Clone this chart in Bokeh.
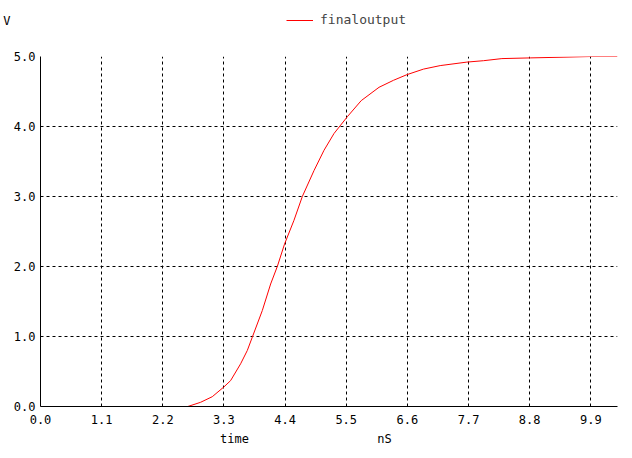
from bokeh.plotting import figure
from bokeh.layouts import column
from bokeh.models import (Range1d, FixedTicker, PrintfTickFormatter, Legend,
                          LegendItem, LinearAxis)
from bokeh.embed import file_html
from bokeh.resources import INLINE

# data (time in nS, voltage in V)
time_ns = [0.0, 2.65, 2.88, 3.09, 3.30, 3.42, 3.60, 3.72, 3.81, 3.99, 4.14, 4.26, 4.39,
           4.56, 4.71, 4.92, 5.10, 5.28, 5.40, 5.52, 5.77, 6.09, 6.35, 6.59, 6.89, 7.19,
           7.67, 7.97, 8.30, 8.81, 9.40, 9.90, 10.38]
finaloutput = [0.0, 0.0, 0.06, 0.14, 0.28, 0.37, 0.61, 0.80, 0.99, 1.37, 1.75, 2.0, 2.32,
               2.66, 3.0, 3.37, 3.66, 3.90, 4.02, 4.14, 4.37, 4.56, 4.66, 4.74, 4.82, 4.87,
               4.92, 4.94, 4.97, 4.98, 4.99, 5.0, 5.0]
x_ticks = [0.0, 1.1, 2.2, 3.3, 4.4, 5.5, 6.6, 7.7, 8.8, 9.9]
y_ticks = [0.0, 1.0, 2.0, 3.0, 4.0, 5.0]
x_title = "time"
x_unit = "nS"
y_unit = "V"
series_name = "finaloutput"

FONT = "DejaVu Sans Mono"
RED = "#ff0000"

# ---- header strip: unit label and legend ----
top = figure(output_backend="svg", toolbar_location=None, width=632, height=48,
             x_range=Range1d(0, 632), y_range=Range1d(1000, 1048),
             min_border=0, min_border_left=40, min_border_right=15,
             x_axis_type=None, y_axis_type=None)
top.outline_line_color = None
top.grid.visible = False
r_key = top.line(time_ns, finaloutput, line_color=RED, line_width=1)

unit_pos = [1028]
unit_axis = LinearAxis(ticker=FixedTicker(ticks=unit_pos),
                       major_label_overrides={unit_pos[0]: y_unit},
                       axis_line_color=None, major_tick_in=0, major_tick_out=0,
                       minor_tick_in=0, minor_tick_out=0, major_label_standoff=30,
                       major_label_text_font=FONT, major_label_text_font_size="12px",
                       major_label_text_color="black")
top.add_layout(unit_axis, "left")

legend = Legend(items=[LegendItem(label=series_name, renderers=[r_key])],
                location=(246, 21), padding=0, margin=0, spacing=0,
                glyph_width=27, glyph_height=14, label_standoff=7,
                label_text_font=FONT, label_text_font_size="13px",
                label_height=14,
                border_line_color=None, background_fill_alpha=0)
top.add_layout(legend, "center")

# ---- main plot ----
p = figure(output_backend="svg", toolbar_location=None,
           frame_width=577, frame_height=350,
           x_range=Range1d(0, 10.38), y_range=Range1d(0, 5.0),
           min_border_left=40, min_border_right=15, min_border_top=8, min_border_bottom=52,
           background_fill_color="white", border_fill_color="white")
p.outline_line_color = None

p.line(time_ns, finaloutput, line_color=RED, line_width=1)

for ax, ticks in ((p.xaxis[0], x_ticks), (p.yaxis[0], y_ticks)):
    ax.ticker = FixedTicker(ticks=ticks)
    ax.formatter = PrintfTickFormatter(format="%.1f")
    ax.major_tick_out = 0
    ax.major_tick_in = 0
    ax.minor_tick_out = 0
    ax.minor_tick_in = 0
    ax.axis_line_color = "black"
    ax.axis_line_width = 1
    ax.major_label_text_font = FONT
    ax.major_label_text_font_size = "12px"
    ax.major_label_text_color = "black"
p.xaxis.major_label_standoff = 8
p.yaxis.major_label_standoff = 5

# second row under the x axis: "time" and "nS"
xt_pos = [3.49, 6.19]
ax2 = LinearAxis(ticker=FixedTicker(ticks=xt_pos),
                 major_label_overrides={xt_pos[0]: x_title, xt_pos[1]: x_unit},
                 axis_line_color=None, major_tick_in=0, major_tick_out=0,
                 minor_tick_in=0, minor_tick_out=0, major_label_standoff=5,
                 major_label_text_font=FONT, major_label_text_font_size="12px",
                 major_label_text_color="black")
p.add_layout(ax2, "below")

for g in (p.xgrid[0], p.ygrid[0]):
    g.grid_line_color = "black"
    g.grid_line_dash = "3 3"
    g.grid_line_width = 1
p.xgrid.ticker = FixedTicker(ticks=x_ticks[1:])
p.ygrid.ticker = FixedTicker(ticks=y_ticks[1:])

layout = column(top, p, spacing=0)
open("out.html", "w").write(file_html(layout, INLINE))
